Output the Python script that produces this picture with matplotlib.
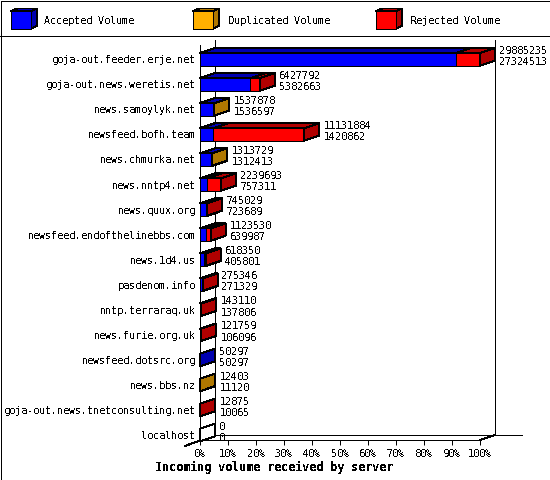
import matplotlib
matplotlib.use('Agg')
import matplotlib.pyplot as plt
from matplotlib.patches import Polygon, Rectangle

plt.rcParams['font.family'] = 'DejaVu Sans Mono'
plt.rcParams['text.antialiased'] = False
plt.rcParams['text.hinting_factor'] = 1

# Parameter:
servers = ['goja-out.feeder.erje.net', 'goja-out.news.weretis.net', 'news.samoylyk.net',
           'newsfeed.bofh.team', 'news.chmurka.net', 'news.nntp4.net', 'news.quux.org',
           'newsfeed.endofthelinebbs.com', 'news.1d4.us', 'pasdenom.info', 'nntp.terraraq.uk',
           'news.furie.org.uk', 'newsfeed.dotsrc.org', 'news.bbs.nz',
           'goja-out.news.tnetconsulting.net', 'localhost']
totals = [29885235, 6427792, 1537878, 11131884, 1313729, 2239693, 745029, 1123530,
          618350, 275346, 143110, 121759, 50297, 12403, 12875, 0]
accepted = [27324513, 5382663, 1536597, 1420862, 1312413, 757311, 723689, 639987,
            405801, 271329, 137806, 106096, 50297, 11120, 10065, 0]
duplicated = [0, 0, 1281, 0, 1316, 0, 0, 0, 0, 0, 0, 0, 0, 1283, 0, 0]
rejected = [2560722, 1045129, 0, 9711022, 0, 1482382, 21340, 483543,
            212549, 4017, 5304, 15663, 0, 0, 2810, 0]
ticks = list(range(0, 101, 10))
legend_names = ['Accepted Volume', 'Duplicated Volume', 'Rejected Volume']

colors = {'acc': ('#0000ff', '#0000b0'), 'dup': ('#ffb000', '#b07800'), 'rej': ('#ff0000', '#b00000')}

FS = 7.3
PX = 1 / 550, 1 / 480
fig = plt.figure(figsize=(5.5, 4.8), dpi=100, facecolor='white')

# pixel layer for frame, legend and title
bg = fig.add_axes([0, 0, 1, 1])
bg.set_xlim(0, 550)
bg.set_ylim(480, 0)
bg.axis('off')
bg.add_patch(Rectangle((0.5, 0.5), 549, 479, fill=False, ec='black', lw=0.72, antialiased=False))
bg.plot([0, 550], [35.5, 35.5], color='black', lw=0.72, antialiased=False)
bg.text(274, 467, 'Incoming volume received by server', ha='center', va='center',
        fontsize=8.8, fontweight='bold')

for x, tx, name, key in zip([11, 193, 376], [44.5, 227.5, 410.5], legend_names, ['acc', 'dup', 'rej']):
    face, dark = colors[key]
    bg.add_patch(Polygon([(x, 11), (x + 6, 8.5), (x + 26, 8.5), (x + 20, 11)], fc=dark, ec='black', lw=0.72, antialiased=False))
    bg.add_patch(Polygon([(x + 20, 11), (x + 26, 8.5), (x + 26, 26), (x + 20, 28.5)], fc=dark, ec='black', lw=0.72, antialiased=False))
    bg.add_patch(Rectangle((x, 11), 20, 17.5, fc=face, ec='black', lw=0.72, antialiased=False))
    bg.text(tx, 20.8, name, ha='left', va='center', fontsize=FS)

# chart axes: x in percent of largest total, y in rows
ax = fig.add_axes([200 * PX[0], 1 - 440 * PX[1], 280 * PX[0], 395 * PX[1]])
ax.patch.set_alpha(0)
ax.set_xlim(0, 100)
ax.set_ylim(15.2, -0.57)
for s in ['top', 'right']:
    ax.spines[s].set_visible(False)
for s in ['left', 'bottom']:
    ax.spines[s].set_linewidth(0.72)
    ax.spines[s].set_antialiased(False)
ax.set_xticks(ticks)
ax.set_xticklabels([str(t) + '%' for t in ticks], fontsize=FS)
ax.set_yticks(range(len(servers)))
ax.set_yticklabels(servers, fontsize=FS)
ax.tick_params(axis='x', length=3.6, width=0.72, pad=3.2)
ax.tick_params(axis='y', length=0, pad=3)

dx = 15 / 2.8   # depth in percent
dy = 5 / 25     # depth in rows
half = 0.25
ymin, ymax = ax.get_ylim()


def line(xs, ys):
    ax.plot(xs, ys, color='black', lw=0.72, clip_on=False, antialiased=False, zorder=1)


# back wall and floor
line([dx, dx], [ymin - dy, ymax - dy])
line([100 + dx, 100 + dx], [ymin - dy, ymax - dy])
line([dx, 115], [ymin - dy, ymin - dy])
line([100, 100 + dx], [ymin, ymin - dy])
line([-5.4, dx], [ymin + 0.24, ymin - dy])


def poly(pts, fc):
    ax.add_patch(Polygon(pts, fc=fc, ec='black', lw=0.72, clip_on=False, antialiased=False, zorder=3))


scale = 100 / max(totals)
for i in range(len(servers)):
    start = 0
    last = None
    for key, vals in [('acc', accepted), ('dup', duplicated), ('rej', rejected)]:
        w = vals[i] * scale
        if w == 0:
            continue
        end = start + w
        face, dark = colors[key]
        poly([(start, i - half), (start + dx, i - half - dy), (end + dx, i - half - dy), (end, i - half)], dark)
        poly([(start, i - half), (end, i - half), (end, i + half), (start, i + half)], face)
        start = end
        last = dark
    poly([(start, i - half), (start + dx, i - half - dy), (start + dx, i + half - dy), (start, i + half)],
         last if last else 'white')
    end = totals[i] * scale
    ax.annotate(str(totals[i]), (end + dx, i), xytext=(3, 6), textcoords='offset points',
                fontsize=FS, va='center', ha='left', annotation_clip=False, zorder=4)
    ax.annotate(str(accepted[i]), (end + dx, i), xytext=(3, -2), textcoords='offset points',
                fontsize=FS, va='center', ha='left', annotation_clip=False, zorder=4)

fig.savefig('out.png', dpi=100)
